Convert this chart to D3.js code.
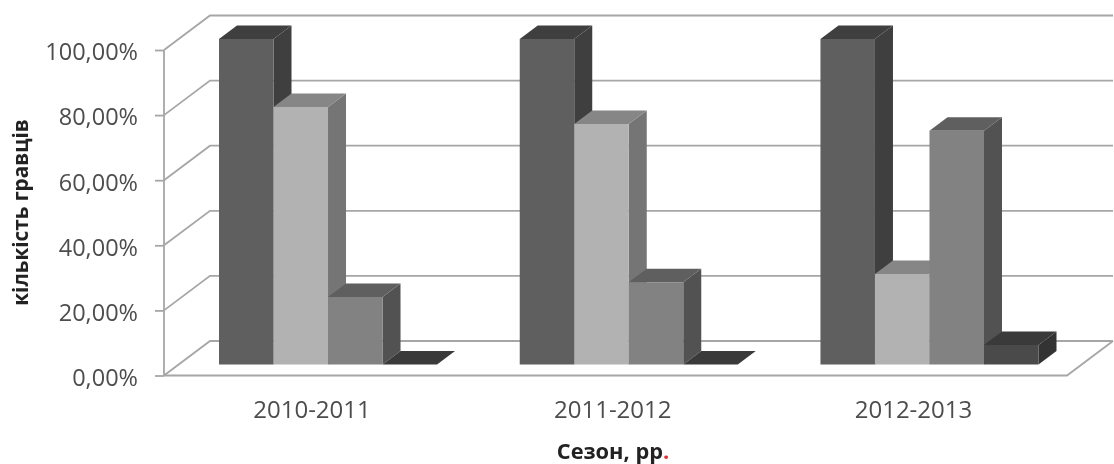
<!DOCTYPE html>
<html>
<head>
<meta charset="utf-8">
<script src="https://cdn.jsdelivr.net/npm/d3@7"></script>
<style>
html,body{margin:0;padding:0;background:#fff;overflow:hidden}
svg{display:block;filter:blur(0.55px)}
text{font-family:"Open Sans",sans-serif}
</style>
</head>
<body>
<svg id="c" width="1114" height="464"></svg>
<script>
const seasons = ["2010-2011", "2011-2012", "2012-2013"];
const seriesA = [100, 100, 100];
const seriesB = [79.1, 73.9, 27.8];
const seriesC = [20.7, 25.3, 71.8];
const seriesD = [0, 0, 6];
const yTicks = [0, 20, 40, 60, 80, 100];
const frontFaces = ["#5f5f5f", "#b2b2b2", "#828282", "#4a4a4a"];
const topFaces = ["#3f3f3f", "#868686", "#5f5f5f", "#3a3a3a"];
const sideFaces = ["#3f3f3f", "#757575", "#525252", "#333333"];
const allSeries = [seriesA, seriesB, seriesC, seriesD];

const svg = d3.select("#c");
const W = { x0: 164, x1: 1067, dx: 46, dy: -34.5 };   // floor front edge and full depth
const BAR = { dx: 18, dy: -13.5, shiftY: -11 };        // bar depth and bar plane offset

const y = d3.scaleLinear().domain([0, 100]).range([375.5, 50]);
const x0 = d3.scaleBand().domain(seasons).range([219, 1038.5]).paddingInner(0.275).paddingOuter(0);
const x1 = d3.scaleBand().domain(d3.range(4)).range([0, x0.bandwidth()]);

const grid = "#a6a6a6";
const g = svg.append("g");

// back wall and side wall lines
const lines = g.append("g").attr("fill", "none").attr("stroke", grid).attr("stroke-width", 1.8);
yTicks.forEach(t => {
  const yf = y(t), yb = yf + W.dy;
  lines.append("path").attr("d", d3.line()([[W.x0, yf], [W.x0 + W.dx, yb], [W.x1 + W.dx, yb]]));
});
// floor front edge + right edge
lines.append("path").attr("d", d3.line()([[W.x0, y(0)], [W.x1, y(0)], [W.x1 + W.dx, y(0) + W.dy]]));

// value axis
const axis = d3.axisLeft(y).tickValues(yTicks).tickSize(9).tickPadding(17)
  .tickFormat(d => d3.format(".2f")(d).replace(".", ",") + "%");
const ag = g.append("g").attr("transform", `translate(${W.x0},0)`).call(axis);
ag.selectAll("path,line").attr("stroke", grid).attr("stroke-width", 1.8);
ag.select("path").attr("d", `M0,${y(100)}V${y(0)}`);
ag.selectAll("text").attr("font-size", 23.5).attr("fill", "#4d4d4d").attr("dy", "0.42em");

// bars
const poly = (sel, pts, fill) => sel.append("polygon").attr("points", pts.map(p => p.join(",")).join(" ")).attr("fill", fill);
seasons.forEach((s, i) => {
  const bg = g.append("g");
  allSeries.forEach((vals, k) => {
    const l = x0(s) + x1(k), r = l + x1.bandwidth();
    const b = y(0) + BAR.shiftY, t = y(vals[i]) + BAR.shiftY;
    const { dx, dy } = BAR;
    poly(bg, [[r, t], [r + dx, t + dy], [r + dx, b + dy], [r, b]], sideFaces[k]);
    poly(bg, [[l, t], [l + dx, t + dy], [r + dx, t + dy], [r, t]], topFaces[k]);
    if (vals[i] > 0) poly(bg, [[l, t], [r, t], [r, b], [l, b]], frontFaces[k]);
  });
});

// category labels
g.append("g").selectAll("text").data(seasons).join("text")
  .attr("x", d => x0(d) + x0.bandwidth() / 2 - 16)
  .attr("y", 417.5)
  .attr("text-anchor", "middle")
  .attr("font-size", 24)
  .attr("fill", "#4d4d4d")
  .text(d => d);

// axis titles
g.append("text")
  .attr("transform", "translate(28,212.5) rotate(-90)")
  .attr("text-anchor", "middle")
  .attr("font-size", 20.7)
  .attr("font-weight", 700)
  .attr("fill", "#222")
  .text("кількість гравців");

const xt = g.append("text")
  .attr("x", 613).attr("y", 459)
  .attr("text-anchor", "middle")
  .attr("font-size", 21.8)
  .attr("font-weight", 700)
  .attr("fill", "#222");
xt.append("tspan").text("Сезон, рр");
xt.append("tspan").attr("fill", "#e03030").text(".");
</script>
</body>
</html>
